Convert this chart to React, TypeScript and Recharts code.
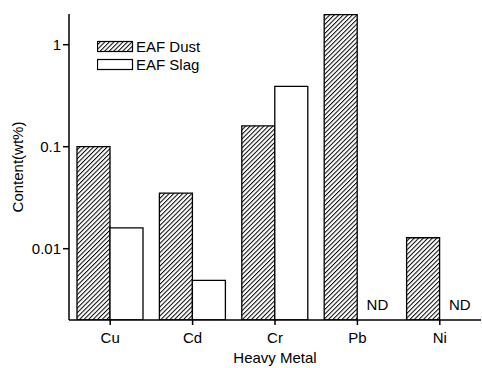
import {
  Bar,
  BarChart,
  ReferenceDot,
  XAxis,
  YAxis,
} from "recharts";

const metals = ["Cu", "Cd", "Cr", "Pb", "Ni"];
const dustContent = [0.1, 0.035, 0.16, 1.97, 0.0128];
const slagContent: (number | null)[] = [0.016, 0.0049, 0.39, null, null];
const notDetected = ["Pb", "Ni"];

const yMajorTicks = [0.01, 0.1, 1];
const yMinorTicks = [
  0.003, 0.004, 0.005, 0.006, 0.007, 0.008, 0.009,
  0.02, 0.03, 0.04, 0.05, 0.06, 0.07, 0.08, 0.09,
  0.2, 0.3, 0.4, 0.5, 0.6, 0.7, 0.8, 0.9, 2,
];
const xMinorTicks = [1, 2, 3, 4];

const FONT = '"Liberation Sans", Arial, sans-serif';

const data = metals.map((m, i) => ({
  metal: m,
  dust: dustContent[i],
  slag: slagContent[i],
}));

function LegendBox() {
  const rows = [
    { label: "EAF Dust", fill: "url(#hatchDust)" },
    { label: "EAF Slag", fill: "#fff" },
  ];
  return (
    <svg width={130} height={34} style={{ display: "block" }}>
      {rows.map((r, i) => (
        <g key={r.label} transform={`translate(0, ${i * 18})`}>
          <rect x={0.5} y={1.5} width={35} height={10} fill={r.fill} stroke="#000" strokeWidth={1.2} />
          <text x={39} y={12} fontSize={15} fontFamily={FONT} fill="#000">
            {r.label}
          </text>
        </g>
      ))}
    </svg>
  );
}

function NdMark(props: any) {
  const { cx, cy } = props;
  return (
    <text x={cx + 20} y={cy - 10} textAnchor="middle" fontSize={15} fontFamily={FONT} fill="#000">
      ND
    </text>
  );
}

export default function App() {
  return (
    <div style={{ position: "absolute", left: 0, top: 0, width: 482, height: 368, background: "#fff" }}>
      <BarChart
        width={482}
        height={368}
        data={data}
        margin={{ top: 14, right: 1, left: 0, bottom: 0 }}
        barGap={0}
        barCategoryGap={8}
      >
        <defs>
          <pattern id="hatchDust" patternUnits="userSpaceOnUse" width={3.2} height={3.2} patternTransform="rotate(45)">
            <rect width={3.2} height={3.2} fill="#fff" />
            <line x1={0.5} y1={0} x2={0.5} y2={3.2} stroke="#000" strokeWidth={1} />
          </pattern>
        </defs>
        <XAxis
          xAxisId="minor"
          type="number"
          domain={[0, 5]}
          ticks={xMinorTicks}
          tick={false}
          axisLine={false}
          tickSize={3}
          height={1}
          stroke="#000"
        />
        <XAxis
          dataKey="metal"
          stroke="#000"
          strokeWidth={1.5}
          tickSize={5}
          tickMargin={7}
          height={47}
          tick={{ fill: "#000", fontSize: 15, fontFamily: FONT }}
          label={{
            value: "Heavy Metal",
            position: "insideBottom",
            offset: 4,
            fill: "#000",
            fontSize: 15,
            fontFamily: FONT,
          }}
        />
        <YAxis
          yAxisId="minor"
          scale="log"
          domain={[0.002, 2]}
          allowDataOverflow
          ticks={yMinorTicks}
          tick={false}
          axisLine={false}
          tickSize={3}
          width={1}
          stroke="#000"
        />
        <YAxis
          scale="log"
          domain={[0.002, 2]}
          allowDataOverflow
          ticks={yMajorTicks}
          tickFormatter={(v) => String(v)}
          stroke="#000"
          strokeWidth={1.5}
          tickSize={6}
          tickMargin={2}
          width={68}
          tick={{ fill: "#000", fontSize: 15, fontFamily: FONT }}
          label={{
            content: () => (
              <text
                x={17}
                y={167}
                transform="rotate(-90 17 167)"
                textAnchor="middle"
                dominantBaseline="central"
                fontSize={15}
                fontFamily={FONT}
                fill="#000"
              >
                Content(wt%)
              </text>
            ),
          }}
        />
        <Bar dataKey="dust" name="EAF Dust" fill="url(#hatchDust)" stroke="#000" strokeWidth={1.3} isAnimationActive={false} />
        <Bar dataKey="slag" name="EAF Slag" fill="#fff" stroke="#000" strokeWidth={1.3} isAnimationActive={false} />
        {notDetected.map((m) => (
          <ReferenceDot key={m} x={m} y={0.002} r={0} ifOverflow="visible" shape={NdMark} />
        ))}
      </BarChart>
      <div style={{ position: "absolute", left: 97, top: 40 }}>
        <LegendBox />
      </div>
    </div>
  );
}
